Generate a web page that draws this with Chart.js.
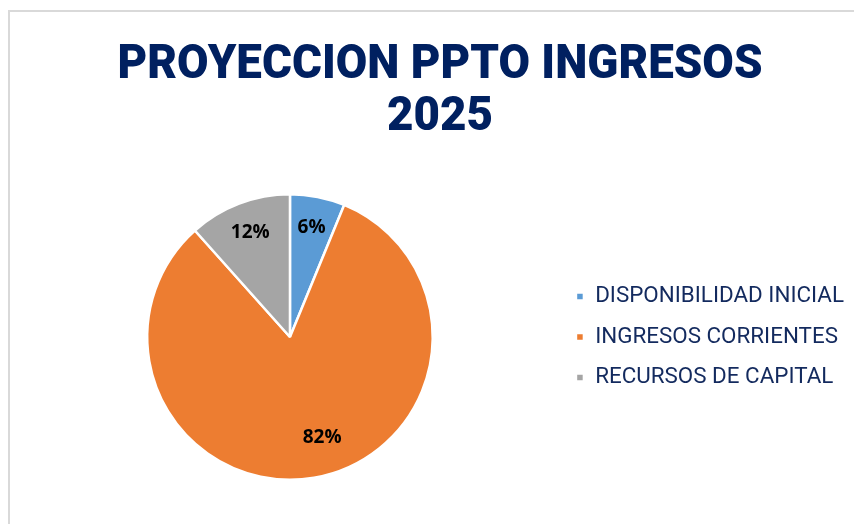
<!DOCTYPE html>
<html>
<head>
<meta charset="utf-8">
<script src="https://cdn.jsdelivr.net/npm/chart.js@4/dist/chart.umd.min.js"></script>
<style>
  html, body { margin: 0; padding: 0; background: #fff; }
  #wrap { width: 854px; height: 524px; position: relative; }
</style>
</head>
<body>
<div id="wrap"><canvas id="c" width="854" height="524"></canvas></div>
<script>
const titleLines = ["PROYECCION PPTO INGRESOS", "2025"];
const categories = ["DISPONIBILIDAD INICIAL", "INGRESOS CORRIENTES", "RECURSOS DE CAPITAL"];
const shares = [6.2, 82.2, 11.6];
const labelsText = ["6%", "82%", "12%"];
const colors = ["#5B9BD5", "#ED7D31", "#A5A5A5"];

const framePlugin = {
  id: 'frame',
  beforeDraw(chart) {
    const ctx = chart.ctx;
    ctx.save();
    ctx.fillStyle = '#ffffff';
    ctx.fillRect(0, 0, chart.width, chart.height);
    ctx.strokeStyle = '#d9d9d9';
    ctx.lineWidth = 2;
    ctx.beginPath();
    ctx.moveTo(9, chart.height);
    ctx.lineTo(9, 11);
    ctx.lineTo(chart.width, 11);
    ctx.stroke();
    ctx.restore();
  }
};

const titlePlugin = {
  id: 'bigTitle',
  afterDraw(chart) {
    const ctx = chart.ctx;
    ctx.save();
    ctx.fillStyle = '#002060';
    ctx.font = '900 49px Roboto, "Liberation Sans", sans-serif';
    ctx.textAlign = 'center';
    ctx.textBaseline = 'alphabetic';
    const w = ctx.measureText(titleLines[0]).width;
    const sx = 645 / w;
    const cx = 440;
    const baselines = [78, 130];
    titleLines.forEach((t, i) => {
      ctx.save();
      ctx.translate(cx, baselines[i]);
      ctx.scale(sx, 1);
      ctx.fillText(t, 0, 0);
      ctx.restore();
    });
    ctx.restore();
  }
};

const labelPlugin = {
  id: 'sliceLabels',
  afterDatasetsDraw(chart) {
    const ctx = chart.ctx;
    const meta = chart.getDatasetMeta(0);
    ctx.save();
    ctx.fillStyle = '#000000';
    ctx.font = 'bold 19px "Open Sans", "Noto Sans", sans-serif';
    ctx.textAlign = 'center';
    ctx.textBaseline = 'middle';
    meta.data.forEach((arc, i) => {
      const p = arc.getProps(['x', 'y', 'startAngle', 'endAngle', 'outerRadius'], true);
      let mid = (p.startAngle + p.endAngle) / 2;
      let r = p.outerRadius * 0.78;
      if (i === 1) { mid -= 0.14; r = p.outerRadius * 0.74; }
      ctx.fillText(labelsText[i], p.x + Math.cos(mid) * r, p.y + Math.sin(mid) * r);
    });
    ctx.restore();
  }
};

new Chart(document.getElementById('c'), {
  type: 'pie',
  data: {
    labels: categories,
    datasets: [{
      data: shares,
      backgroundColor: colors,
      borderColor: '#ffffff',
      borderWidth: 2.5
    }]
  },
  options: {
    responsive: false,
    animation: false,
    layout: { padding: { top: 193, bottom: 43, left: 22, right: 0 } },
    plugins: {
      title: { display: false },
      tooltip: { enabled: false },
      legend: {
        position: 'right',
        labels: {
          boxWidth: 8,
          boxHeight: 8,
          padding: 18,
          color: '#132a5e',
          font: { family: 'Roboto, "Liberation Sans", sans-serif', size: 22.4 }
        }
      }
    }
  },
  plugins: [framePlugin, titlePlugin, labelPlugin]
});
</script>
</body>
</html>
